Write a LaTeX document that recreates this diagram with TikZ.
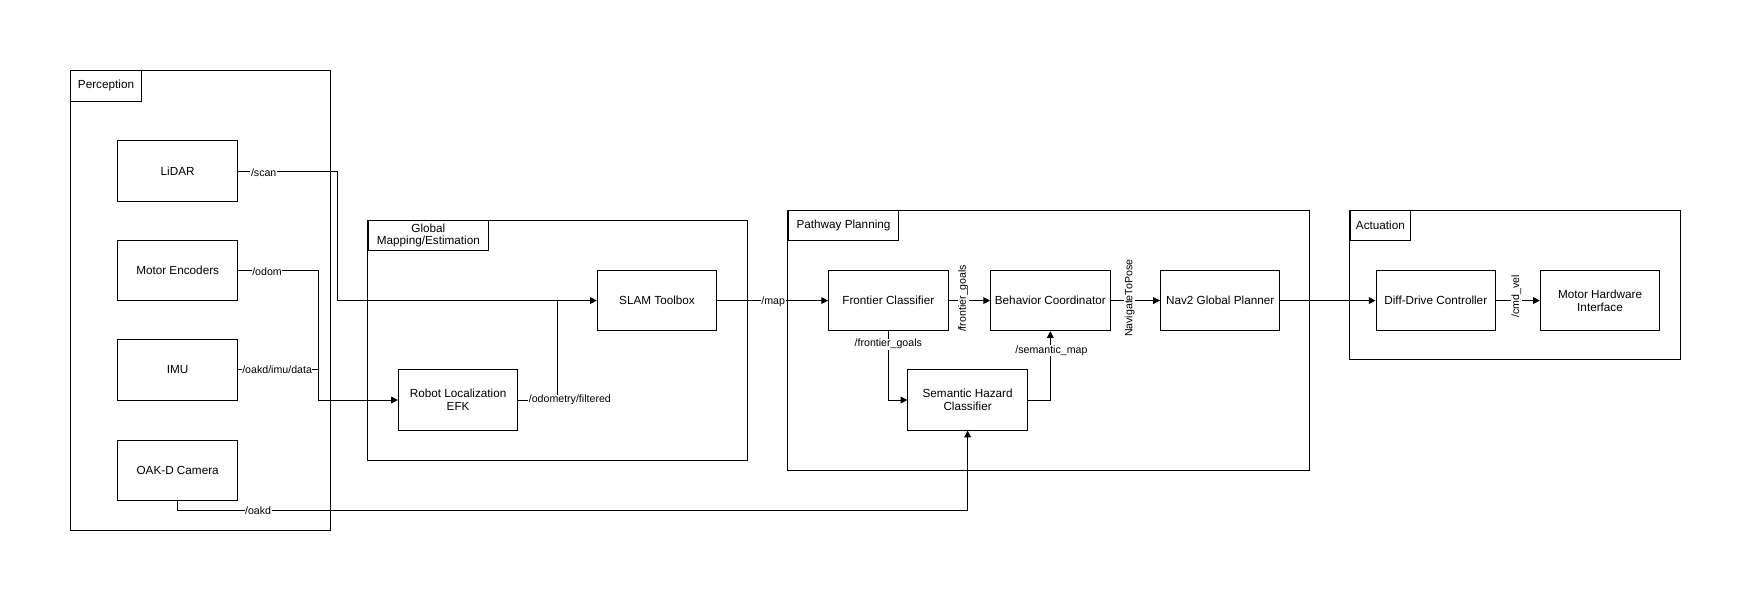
\documentclass[tikz,border=0pt]{standalone}
\usepackage{fontspec}
\setmainfont{Liberation Sans}
\usepackage{tikz}
\usetikzlibrary{arrows.meta}

\begin{document}
\begin{tikzpicture}[x=1pt,y=-1pt]
    \tikzstyle{block}=[draw=black,line width=0.8pt,minimum width=107pt,minimum height=54pt,align=center,font=\fontsize{10.5}{12}\selectfont,inner sep=1pt]
    \tikzstyle{frame}=[draw=black,line width=0.8pt]
    \tikzstyle{tab}=[draw=black,line width=0.8pt,anchor=north west,align=center,font=\fontsize{10.5}{11}\selectfont,inner sep=2pt]
    \tikzstyle{topic}=[fill=white,inner sep=0.5pt,font=\fontsize{9.5}{10}\selectfont]
    \tikzstyle{fwd}=[draw=black,line width=0.8pt,-{Triangle[length=6pt,width=6pt]}]
    \tikzstyle{plain}=[draw=black,line width=0.8pt]

    \useasboundingbox (0,0) rectangle (1568,538);

    % frames
    \draw[frame] (63,63) rectangle (296,475);
    \node[tab,minimum width=63pt,minimum height=27pt] (tperc) at (63,63) {Perception};
    \draw[frame] (329,197) rectangle (669,412);
    \node[tab,minimum width=108pt,minimum height=27pt] (tglob) at (329,197) {Global\\Mapping/Estimation};
    \draw[frame] (705,188) rectangle (1172,421);
    \node[tab,minimum width=99pt,minimum height=27pt] (tpath) at (705,188) {Pathway Planning};
    \draw[frame] (1208,188) rectangle (1504,322);
    \node[tab,minimum width=54pt,minimum height=27pt] (tact) at (1208,188) {Actuation};

    % blocks
    \node[block] (lidar) at (159,153) {LiDAR};
    \node[block] (enc)   at (159,242) {Motor Encoders};
    \node[block] (imu)   at (159,331) {IMU};
    \node[block] (cam)   at (159,421) {OAK-D Camera};
    \node[block] (slam)  at (588,269) {SLAM Toolbox};
    \node[block] (rloc)  at (410,358) {Robot Localization\\EFK};
    \node[block] (front) at (795,269) {Frontier Classifier};
    \node[block] (behav) at (940,269) {Behavior Coordinator};
    \node[block] (nav)   at (1092,269) {Nav2 Global Planner};
    \node[block] (haz)   at (866,358) {Semantic Hazard\\Classifier};
    \node[block] (diff)  at (1285,269) {Diff-Drive Controller};
    \node[block] (mhw)   at (1432,269) {Motor Hardware\\Interface};

    \coordinate (jscan) at (302,153);
    \coordinate (jodom) at (285,358);
    \coordinate (jodf)  at (499,269);
    \coordinate (jcam)  at (159,457);

    % connectors
    \draw [fwd] (lidar.east) -- (jscan) |- (slam.west);
    \draw [plain] (enc.east) -| (jodom);
    \draw [plain] (imu.east) -| (jodom);
    \draw [fwd] (jodom) -- (rloc.west);
    \draw [plain] (rloc.east) -| (jodf);
    \draw [fwd] (cam.south) -- (jcam) -| (haz.south);
    \draw [fwd] (slam) -- (front);
    \draw [fwd] (front) -- (behav);
    \draw [fwd] (front.south) |- (haz.west);
    \draw [fwd] (haz.east) -| (behav.south);
    \draw [fwd] (behav) -- (nav);
    \draw [fwd] (nav) -- (diff);
    \draw [fwd] (diff) -- (mhw);

    % topic labels
    \node[topic] (lscan) at (236,155) {/scan};
    \node[topic] (lodom) at (239,243) {/odom};
    \node[topic] (limu)  at (248,331) {/oakd/imu/data};
    \node[topic] (lcam)  at (231,457) {/oakd};
    \node[topic] (lodf)  at (510,358) {/odometry/filtered};
    \node[topic] (lmap)  at (692,270) {/map};
    \node[topic,rotate=90] (lfg1) at (862,267) {/frontier\_goals};
    \node[topic] (lfg2)  at (795,308) {/frontier\_goals};
    \node[topic] (lsem)  at (941,314) {/semantic\_map};
    \node[topic,rotate=90] (lntp) at (1011,267) {NavigateToPose};
    \node[topic,rotate=90] (lcmd) at (1357,265) {/cmd\_vel};
\end{tikzpicture}
\end{document}
